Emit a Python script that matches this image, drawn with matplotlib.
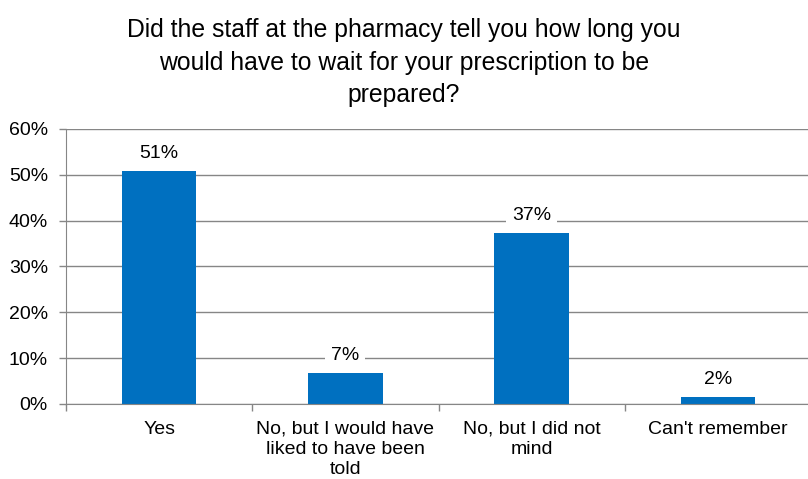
import matplotlib
matplotlib.use('Agg')
import matplotlib.pyplot as plt
import numpy as np

plt.rcParams['font.family'] = ['Liberation Sans', 'DejaVu Sans']

# data
categories = ['Yes', 'No, but I would have\nliked to have been\ntold',
              'No, but I did not\nmind', "Can't remember"]
values = [50.9, 6.7, 37.4, 1.6]
labels = ['51%', '7%', '37%', '2%']
yticks = [0, 10, 20, 30, 40, 50, 60]

title = ('Did the staff at the pharmacy tell you how long you\n'
         'would have to wait for your prescription to be\nprepared?')

bar_color = '#0070C0'
grid_color = '#868686'

fig = plt.figure(figsize=(8.08, 4.79), dpi=100)
ax = fig.add_axes([0.0817, 0.1566, 0.922, 0.5741])

x = np.arange(len(categories))
ax.bar(x, values, width=0.40, color=bar_color, zorder=2)

ax.set_xlim(-0.5, len(categories) - 0.5)
ax.set_ylim(0, 60)
ax.set_yticks(yticks)
ax.set_yticklabels([f'{t}%' for t in yticks], fontsize=14)
ax.yaxis.grid(True, color=grid_color, linewidth=1, zorder=0)
ax.set_axisbelow(True)

ax.set_xticks(x)
ax.set_xticklabels(categories, fontsize=14, linespacing=1.25)
ax.set_xticks(np.arange(len(categories) + 1) - 0.5, minor=True)
ax.tick_params(axis='x', which='major', length=0, pad=12)
ax.tick_params(axis='x', which='minor', length=5, color=grid_color, width=1)
ax.tick_params(axis='y', length=5, color=grid_color, width=1, pad=8)

for side in ['top', 'right']:
    ax.spines[side].set_visible(False)
for side in ['left', 'bottom']:
    ax.spines[side].set_color(grid_color)

for xi, v, lab in zip(x, values, labels):
    ax.annotate(lab, (xi, v), xytext=(0, 12.5), textcoords='offset points',
                ha='center', va='center', fontsize=14,
                bbox=dict(boxstyle='square,pad=0.3', fc='white', ec='none'),
                zorder=3)

fig.text(0.5, 0.962, title, ha='center', va='top', fontsize=17.8,
         linespacing=1.45)

fig.savefig('out.png', dpi=100)
